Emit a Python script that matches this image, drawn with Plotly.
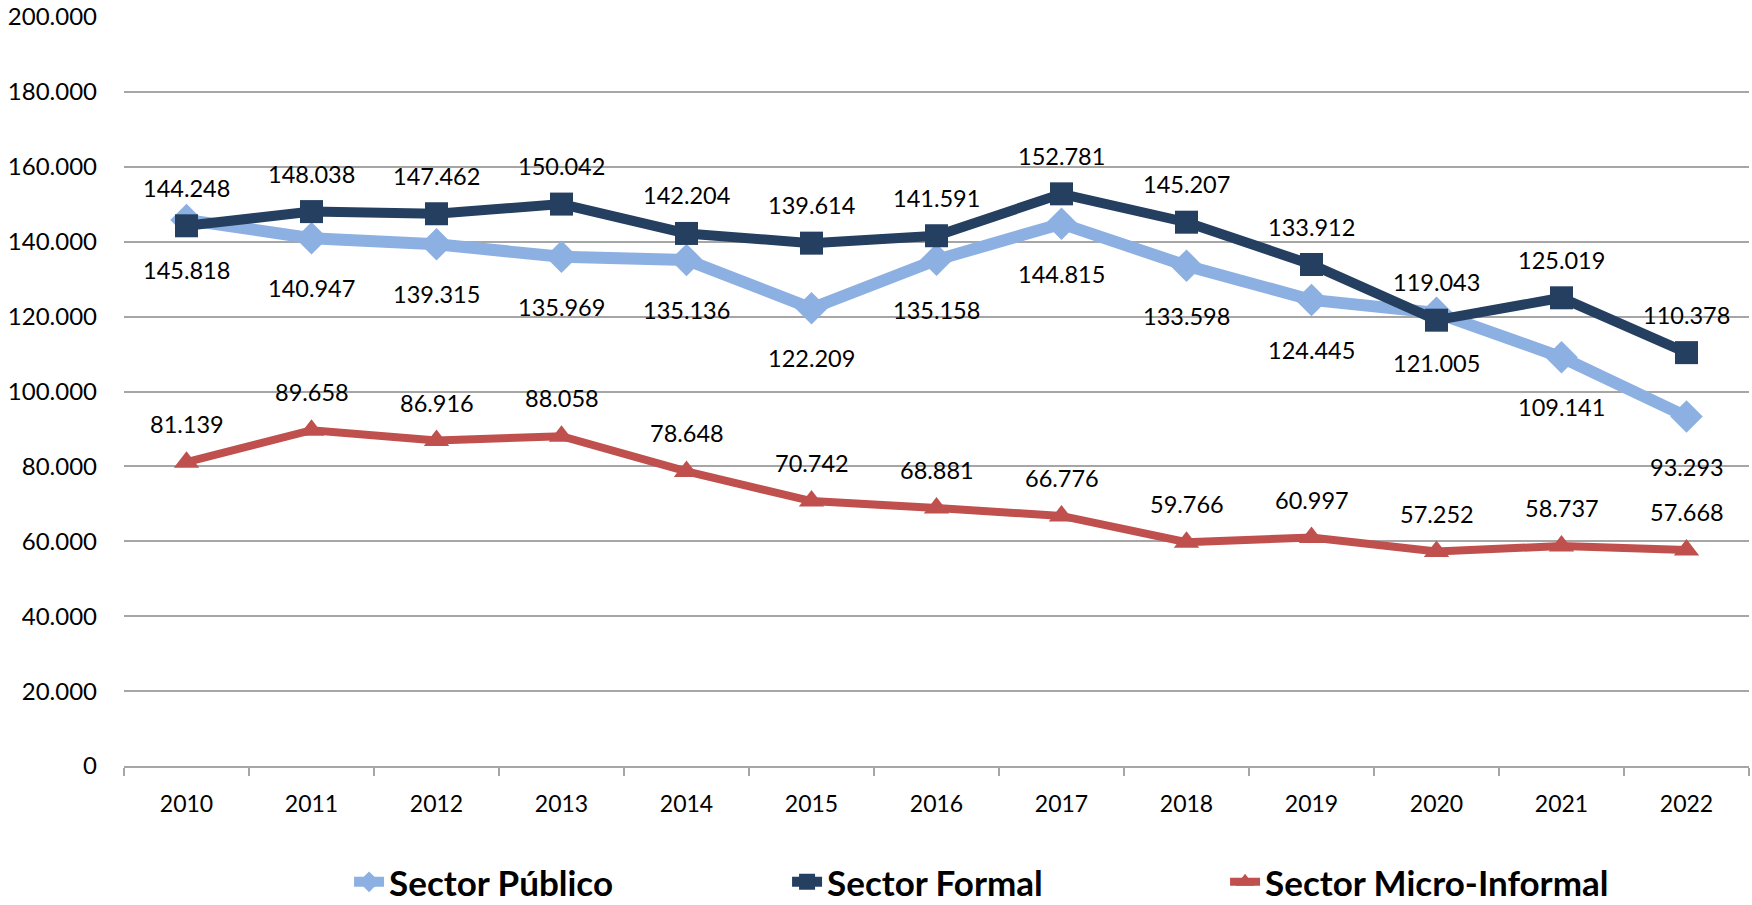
import plotly.graph_objects as go

years = ["2010", "2011", "2012", "2013", "2014", "2015", "2016", "2017", "2018", "2019", "2020", "2021", "2022"]
publico = [145818, 140947, 139315, 135969, 135136, 122209, 135158, 144815, 133598, 124445, 121005, 109141, 93293]
formal = [144248, 148038, 147462, 150042, 142204, 139614, 141591, 152781, 145207, 133912, 119043, 125019, 110378]
micro = [81139, 89658, 86916, 88058, 78648, 70742, 68881, 66776, 59766, 60997, 57252, 58737, 57668]
y_ticks = [0, 20000, 40000, 60000, 80000, 100000, 120000, 140000, 160000, 180000, 200000]

def fmt(v):
    return f"{v:,}".replace(",", ".")

FONT = "Lato"
C_PUB = "#8DB0E3"
C_FOR = "#243F60"
C_MIC = "#C0504D"

fig = go.Figure()
fig.add_trace(go.Scatter(x=years, y=publico, name="Sector Público", mode="lines+markers",
                         line=dict(color=C_PUB, width=12),
                         marker=dict(symbol="diamond", size=25, color=C_PUB)))
fig.add_trace(go.Scatter(x=years, y=formal, name="Sector Formal", mode="lines+markers",
                         line=dict(color=C_FOR, width=10),
                         marker=dict(symbol="square", size=23, color=C_FOR)))
fig.add_trace(go.Scatter(x=years, y=micro, name="Sector Micro-Informal", mode="lines+markers",
                         line=dict(color=C_MIC, width=8),
                         marker=dict(symbol="triangle-up", size=22, color=C_MIC)))

annotations = []
for series, shift in ((publico, -50), (formal, 38), (micro, 38)):
    for i, v in enumerate(series):
        # category axis: annotation x is the category's serial index
        annotations.append(dict(x=i, y=v, xref="x", yref="y", text=fmt(v), showarrow=False,
                                yshift=shift, font=dict(family=FONT, size=23.5, color="black")))

fig.update_layout(
    width=1752, height=905,
    margin=dict(l=124, r=3, t=17, b=139, autoexpand=False),
    paper_bgcolor="white", plot_bgcolor="white",
    separators=",.",
    font=dict(family=FONT, size=23, color="black"),
    annotations=annotations,
    showlegend=True,
    legend=dict(orientation="h", x=0.1385, y=-0.155, xanchor="left", yanchor="middle",
                font=dict(family=FONT, size=35, color="black", weight="bold"),
                entrywidth=393, entrywidthmode="pixels", bgcolor="rgba(0,0,0,0)"),
)
fig.update_xaxes(type="category", range=[-0.5, len(years) - 0.5], automargin=False,
                 showline=True, linecolor="#A6A6A6", linewidth=2,
                 ticks="outside", tickson="boundaries", ticklen=8, tickcolor="#A6A6A6", tickwidth=2,
                 showgrid=False, tickangle=0, tickfont=dict(family=FONT, size=23, color="black"),
                 ticklabelstandoff=16, ticklabeloverflow="allow")
fig.update_yaxes(range=[0, 200000], tickvals=y_ticks, ticktext=[fmt(v) for v in y_ticks],
                 automargin=False, ticklabeloverflow="allow",
                 showgrid=True, gridcolor="#A6A6A6", gridwidth=2, zeroline=False,
                 showline=False, ticks="", tickfont=dict(family=FONT, size=24, color="black"),
                 ticklabelstandoff=26)

# remove the browser's default 8px body margin so the figure sits at the page origin
fig.write_html("out.html", config={"displayModeBar": False},
               post_script="document.body.style.margin='0px';")
